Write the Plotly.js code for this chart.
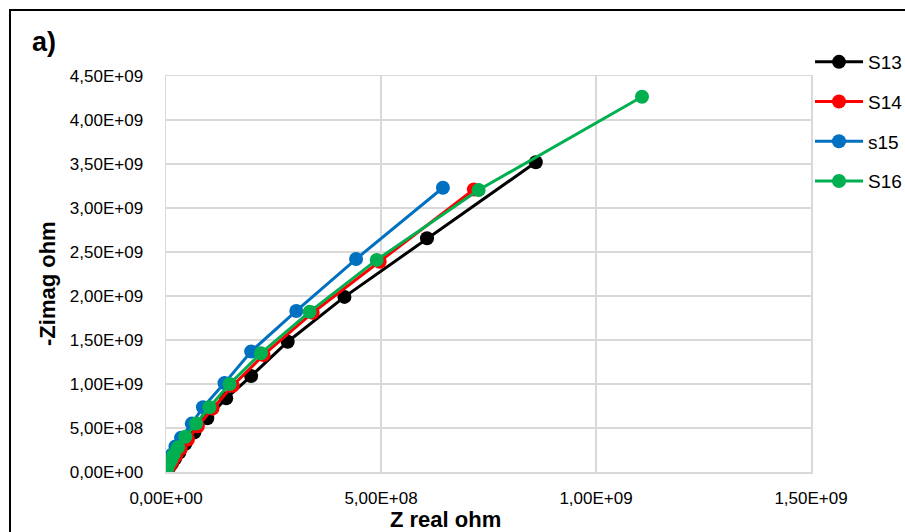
<!DOCTYPE html>
<html>
<head>
<meta charset="utf-8">
<script src="https://cdn.plot.ly/plotly-3.0.1.min.js"></script>
<style>html,body{margin:0;padding:0;background:#fff;}#chart{width:905px;height:532px;}</style>
</head>
<body>
<div id="chart"></div>
<script>
// Series names
const seriesNames = ["S13", "S14", "s15", "S16"];

// S13 (black)
const s13x = [8.60e8, 6.07e8, 4.15e8, 2.83e8, 1.98e8, 1.40e8, 9.6e7, 6.6e7, 4.5e7, 3.1e7, 2.1e7, 1.4e7, 9.0e6, 5.0e6, 2.0e6, 5.0e5];
const s13y = [3.52e9, 2.656e9, 1.99e9, 1.48e9, 1.09e9, 8.37e8, 6.1e8, 4.5e8, 3.2e8, 2.2e8, 1.5e8, 1.0e8, 6.5e7, 4.0e7, 2.0e7, 5.0e6];

// S14 (red)
const s14x = [7.16e8, 4.97e8, 3.41e8, 2.27e8, 1.55e8, 1.08e8, 7.4e7, 5.1e7, 3.4e7, 2.3e7, 1.5e7, 1.0e7, 6.0e6, 3.0e6, 1.0e6, 2.0e5];
const s14y = [3.21e9, 2.39e9, 1.81e9, 1.33e9, 9.8e8, 7.2e8, 5.2e8, 3.7e8, 2.6e8, 1.8e8, 1.2e8, 8.0e7, 5.0e7, 3.0e7, 1.0e7, 2.0e6];

// s15 (blue)
const s15x = [6.44e8, 4.42e8, 3.03e8, 1.98e8, 1.36e8, 8.6e7, 6.0e7, 3.5e7, 2.2e7, 1.4e7, 9.0e6, 6.0e6, 3.5e6, 2.0e6, 8.0e5, 2.0e5];
const s15y = [3.23e9, 2.42e9, 1.83e9, 1.37e9, 1.01e9, 7.35e8, 5.5e8, 3.9e8, 2.9e8, 2.0e8, 1.4e8, 1.0e8, 6.5e7, 4.0e7, 2.0e7, 4.0e6];

// S16 (green)
const s16x = [1.107e9, 7.27e8, 4.90e8, 3.34e8, 2.21e8, 1.48e8, 1.01e8, 7.0e7, 4.5e7, 2.8e7, 1.8e7, 1.2e7, 7.0e6, 4.0e6, 2.0e6, 8.0e5, 2.0e5];
const s16y = [4.265e9, 3.205e9, 2.41e9, 1.82e9, 1.35e9, 1.0e9, 7.35e8, 5.5e8, 4.0e8, 2.8e8, 2.0e8, 1.4e8, 1.0e8, 6.5e7, 4.0e7, 2.0e7, 4.0e6];

// Tick labels
const xTickVals = [0, 5e8, 1e9, 1.5e9];
const xTickText = ["0,00E+00", "5,00E+08", "1,00E+09", "1,50E+09"];
const yTickVals = [0, 5e8, 1e9, 1.5e9, 2e9, 2.5e9, 3e9, 3.5e9, 4e9, 4.5e9];
const yTickText = ["0,00E+00", "5,00E+08", "1,00E+09", "1,50E+09", "2,00E+09", "2,50E+09", "3,00E+09", "3,50E+09", "4,00E+09", "4,50E+09"];

const colors = ["#000000", "#FF0000", "#0070C0", "#00B050"];
const xs = [s13x, s14x, s15x, s16x];
const ys = [s13y, s14y, s15y, s16y];

const FONT = "Liberation Sans, Arial, sans-serif";

const traces = seriesNames.map((name, i) => ({
  type: "scatter",
  mode: "lines+markers",
  name: name,
  x: xs[i],
  y: ys[i],
  legendgroup: "g" + i,
  line: {color: colors[i], width: 3},
  marker: {color: colors[i], size: 14, symbol: "circle"}
}));

const W = 905, H = 532;
const L = 166, R = 94, T = 76, B = 60;
const pw = W - L - R, ph = H - T - B;
const px = (x) => (x - L) / pw;
const py = (y) => (H - B - y) / ph;

const layout = {
  width: W, height: H,
  margin: {l: L, r: R, t: T, b: B, pad: 0, autoexpand: false},
  paper_bgcolor: "#ffffff",
  plot_bgcolor: "#ffffff",
  font: {family: FONT, color: "#000000"},
  showlegend: true,
  legend: {
    x: px(810), y: py(43), xanchor: "left", yanchor: "top",
    font: {family: FONT, size: 19, color: "#000000"},
    bgcolor: "rgba(0,0,0,0)",
    traceorder: "grouped",
    tracegroupgap: 12,
    itemwidth: 48
  },
  xaxis: {
    range: [0, 1.5e9],
    tickmode: "array", tickvals: xTickVals, ticktext: xTickText,
    tickfont: {family: FONT, size: 17, color: "#000000"},
    showgrid: true, gridcolor: "#D9D9D9", gridwidth: 1.5,
    showline: true, linecolor: "#D9D9D9", linewidth: 1.5, mirror: true,
    zeroline: false, ticks: "", ticklabelstandoff: 10,
    fixedrange: true
  },
  yaxis: {
    range: [0, 4.5e9],
    tickmode: "array", tickvals: yTickVals, ticktext: yTickText,
    tickfont: {family: FONT, size: 17, color: "#000000"},
    showgrid: true, gridcolor: "#D9D9D9", gridwidth: 1.5,
    showline: true, linecolor: "#D9D9D9", linewidth: 1.5, mirror: true,
    zeroline: false, ticks: "", ticklabelstandoff: 18,
    fixedrange: true
  },
  annotations: [
    {text: "<b>a)</b>", xref: "paper", yref: "paper", x: px(30), y: py(42), xanchor: "left", yanchor: "middle",
     showarrow: false, font: {family: FONT, size: 27, color: "#000000"}},
    {text: "<b>Z real ohm</b>", xref: "paper", yref: "paper", x: px(445), y: py(519), xanchor: "center", yanchor: "middle",
     showarrow: false, font: {family: FONT, size: 22, color: "#000000"}},
    {text: "<b>-Zimag ohm</b>", xref: "paper", yref: "paper", x: px(47), y: py(283), xanchor: "center", yanchor: "middle",
     textangle: -90, showarrow: false, font: {family: FONT, size: 22, color: "#000000"}}
  ],
  shapes: [
    {type: "rect", xref: "paper", yref: "paper", x0: px(10), y0: py(10), x1: px(960), y1: py(600),
     line: {color: "#000000", width: 2}, fillcolor: "rgba(0,0,0,0)", layer: "below"}
  ]
};

Plotly.newPlot("chart", traces, layout, {displayModeBar: false, staticPlot: true});
</script>
</body>
</html>
